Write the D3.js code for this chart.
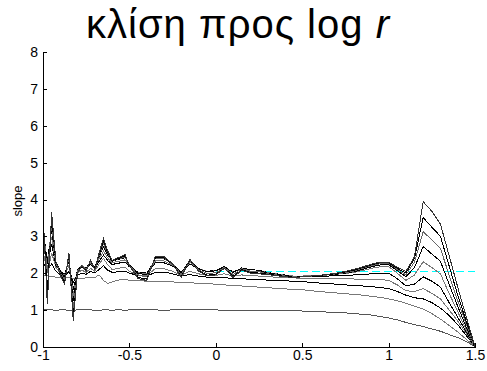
<!DOCTYPE html>
<html><head><meta charset="utf-8">
<script src="https://cdn.jsdelivr.net/npm/d3@7"></script>
<style>body{margin:0;background:#fff}svg{display:block}</style>
</head><body>
<script>
const logR = [-1,-0.975,-0.95,-0.925,-0.9,-0.875,-0.85,-0.825,-0.8,-0.775,-0.75,-0.725,-0.7,-0.675,-0.65,-0.625,-0.6,-0.575,-0.55,-0.525,-0.5,
 -0.45,-0.4,-0.35,-0.3,-0.25,-0.2,-0.15,-0.1,-0.05,0,0.05,0.1,0.15,0.2,0.25,
 0.3,0.35,0.4,0.45,0.5,0.55,0.6,0.65,0.7,0.75,0.8,0.85,
 0.9,0.95,1,1.05,1.1,1.15,1.2,1.25,1.3,1.35,1.4,1.45,1.5];
const m1 = [1.00,1.01,1.00,0.99,1.00,1.00,0.99,0.99,1.00,1.00,1.01,1.00,0.99,0.99,1.00,1.00,0.99,1.00,1.00,0.99,1.00,
 1.00,1.00,1.00,0.99,1.00,1.00,1.00,1.00,1.00,1.00,0.99,0.99,0.99,0.99,0.99,
 0.99,0.98,0.98,0.98,0.97,0.96,0.95,0.94,0.93,0.92,0.90,0.88,
 0.86,0.82,0.78,0.73,0.66,0.60,0.55,0.48,0.42,0.33,0.25,0.14,0];
const m2 = [1.95,1.93,1.91,1.89,1.88,1.87,1.87,1.86,1.86,1.86,1.87,1.88,1.88,1.95,1.80,1.72,1.76,1.80,1.82,1.82,1.81,
 1.80,1.78,1.77,1.76,1.76,1.75,1.74,1.72,1.71,1.70,1.68,1.66,1.65,1.63,1.62,
 1.60,1.59,1.57,1.56,1.55,1.52,1.50,1.48,1.46,1.44,1.42,1.40,
 1.37,1.34,1.30,1.25,1.18,1.10,1.02,0.90,0.75,0.58,0.40,0.20,0];
const m3 = [2.30,2.10,2.25,2.05,1.95,1.90,2.05,1.75,1.95,2.00,1.97,2.05,2.00,2.10,2.20,2.08,2.02,2.03,2.04,2.05,2.00,
 1.93,1.92,2.02,2.03,1.98,1.92,1.96,1.92,1.89,1.88,1.88,1.85,1.85,1.83,1.82,
 1.81,1.80,1.79,1.78,1.77,1.75,1.73,1.71,1.70,1.68,1.66,1.65,
 1.63,1.61,1.58,1.50,1.40,1.33,1.30,1.20,1.05,0.85,0.60,0.30,0];
const m4 = [2.60,2.00,2.55,2.15,2.00,1.95,2.20,1.55,2.00,2.08,2.02,2.13,2.05,2.25,2.40,2.22,2.10,2.12,2.14,2.16,2.05,
 1.95,1.93,2.12,2.12,2.05,1.94,2.05,1.98,1.94,1.94,1.98,1.92,1.95,1.93,1.92,
 1.90,1.89,1.88,1.87,1.86,1.86,1.85,1.85,1.84,1.84,1.84,1.83,
 1.83,1.83,1.80,1.68,1.52,1.50,1.58,1.45,1.30,1.00,0.70,0.35,0];
const m5 = [2.80,2.25,2.78,2.21,2.07,1.96,2.32,1.54,2.09,2.17,2.11,2.23,2.13,2.32,2.49,2.34,2.23,2.26,2.28,2.30,2.17,
 2.02,2.00,2.28,2.28,2.19,2.04,2.25,2.11,2.05,2.07,2.14,2.04,2.12,2.09,2.08,
 2.02,1.98,1.95,1.92,1.91,1.91,1.92,1.92,1.93,1.94,1.95,1.96,
 1.98,1.99,2.00,1.85,1.65,1.70,1.90,1.78,1.62,1.20,0.80,0.40,0];
const m6 = [3.01,2.35,2.98,2.25,2.06,1.93,2.39,1.39,2.09,2.20,2.12,2.28,2.14,2.39,2.60,2.41,2.28,2.31,2.33,2.36,2.20,
 2.01,1.98,2.33,2.33,2.22,2.02,2.29,2.12,2.05,2.06,2.16,2.02,2.13,2.09,2.08,
 2.01,1.98,1.94,1.92,1.92,1.93,1.94,1.95,1.97,1.99,2.02,2.07,
 2.13,2.17,2.18,2.00,1.80,1.95,2.31,2.15,1.98,1.45,0.95,0.45,0];
const m7 = [3.21,2.30,3.18,2.29,2.06,1.89,2.45,1.23,2.09,2.22,2.12,2.32,2.16,2.45,2.72,2.49,2.32,2.36,2.39,2.42,2.22,
 1.99,1.96,2.39,2.39,2.26,2.01,2.34,2.12,2.04,2.06,2.18,2.01,2.14,2.09,2.08,
 2.00,1.97,1.93,1.91,1.91,1.92,1.93,1.95,1.97,2.00,2.04,2.10,
 2.17,2.22,2.23,2.07,1.90,2.15,2.72,2.52,2.32,1.70,1.10,0.52,0];
const m8 = [3.38,2.00,3.34,2.29,2.01,1.82,2.48,1.04,2.05,2.21,2.09,2.33,2.13,2.48,2.79,2.52,2.33,2.37,2.40,2.44,2.21,
 1.94,1.90,2.40,2.40,2.25,1.96,2.35,2.09,1.99,2.01,2.15,1.96,2.12,2.05,2.04,
 1.98,1.95,1.92,1.90,1.91,1.92,1.93,1.95,1.98,2.01,2.06,2.13,
 2.20,2.25,2.26,2.10,1.95,2.30,3.13,2.90,2.67,1.95,1.25,0.60,0];
const m9 = [3.55,1.50,3.50,2.29,1.97,1.75,2.51,0.85,2.02,2.20,2.06,2.33,2.11,2.51,2.87,2.56,2.33,2.38,2.42,2.47,2.20,
 1.88,1.84,2.42,2.42,2.24,1.91,2.36,2.06,1.94,1.97,2.13,1.91,2.09,2.02,2.00,
 1.97,1.94,1.91,1.89,1.90,1.92,1.94,1.96,1.99,2.03,2.08,2.15,
 2.22,2.28,2.28,2.13,2.00,2.40,3.51,3.25,3.00,2.20,1.40,0.68,0];
const m10 = [3.70,1.15,3.65,2.30,1.95,1.70,2.55,0.70,2.00,2.20,2.05,2.35,2.10,2.55,2.95,2.60,2.35,2.40,2.45,2.50,2.20,
 1.85,1.80,2.45,2.45,2.25,1.88,2.38,2.05,1.92,1.95,2.13,1.88,2.08,2.00,1.98,
 1.96,1.93,1.90,1.88,1.90,1.92,1.94,1.97,2.00,2.05,2.10,2.17,
 2.24,2.30,2.30,2.16,2.04,2.45,3.94,3.68,3.33,2.48,1.62,0.80,0];
const seriesList = [m1,m2,m3,m4,m5,m6,m7,m8,m9,m10];
const lineColors = ["#555","#777","#000","#777","#000","#777","#000","#666","#000","#333"];
const refLevel = 2.05;
const refStart = 0;
const xTicks = [-1,-0.5,0,0.5,1,1.5];
const xTickLabels = ["-1","-0.5","0","0.5","1","1.5"];
const yTicks = [0,1,2,3,4,5,6,7,8];

const W = 487, H = 371;
const svg = d3.select("body").append("svg").attr("width", W).attr("height", H);
const x = d3.scaleLinear().domain([-1, 1.5]).range([43, 475]);
const y = d3.scaleLinear().domain([0, 8]).range([346.7, 52.3]);

// reference dashed line
const yRef = Math.round(y(refLevel)) + 0.5;
svg.append("line")
  .attr("x1", x(refStart)).attr("x2", x(1.5))
  .attr("y1", yRef).attr("y2", yRef)
  .attr("stroke", "#00ffff").attr("stroke-width", 1).attr("stroke-dasharray", "8,4")
  .attr("shape-rendering", "crispEdges");

const line = d3.line().x((d, i) => x(logR[i])).y(d => y(d));
seriesList.forEach((s, k) => {
  svg.append("path").attr("d", line(s)).attr("fill", "none")
    .attr("stroke", lineColors[k]).attr("stroke-width", 1)
    .attr("shape-rendering", "crispEdges");
});

const fontFam = "'Liberation Sans', Arial, Helvetica, sans-serif";
const gx = svg.append("g").attr("transform", `translate(0,${y(0)})`)
  .call(d3.axisBottom(x).tickValues(xTicks).tickFormat((d, i) => xTickLabels[i]).tickSizeInner(-4).tickSizeOuter(0).tickPadding(3));
const gy = svg.append("g").attr("transform", `translate(${x(-1)},0)`)
  .call(d3.axisLeft(y).tickValues(yTicks).tickFormat(d3.format("d")).tickSizeInner(-4).tickSizeOuter(0).tickPadding(5));
[gx, gy].forEach(g => {
  g.selectAll("path,line").attr("stroke", "#000").attr("stroke-width", 1).attr("shape-rendering", "crispEdges");
  g.selectAll("text").attr("font-family", fontFam).attr("font-size", 14).attr("fill", "#000");
});

svg.append("text")
  .attr("transform", `translate(22,201) rotate(-90)`)
  .attr("text-anchor", "middle").attr("font-family", fontFam).attr("font-size", 13)
  .text("slope");

const title = svg.append("text").attr("x", 86).attr("y", 38)
  .attr("text-anchor", "start").attr("font-family", fontFam).attr("font-size", 40)
  .attr("textLength", 303).attr("lengthAdjust", "spacing");
title.append("tspan").text("κλίση προς log ");
title.append("tspan").attr("font-style", "italic").text("r");
</script>
</body></html>
